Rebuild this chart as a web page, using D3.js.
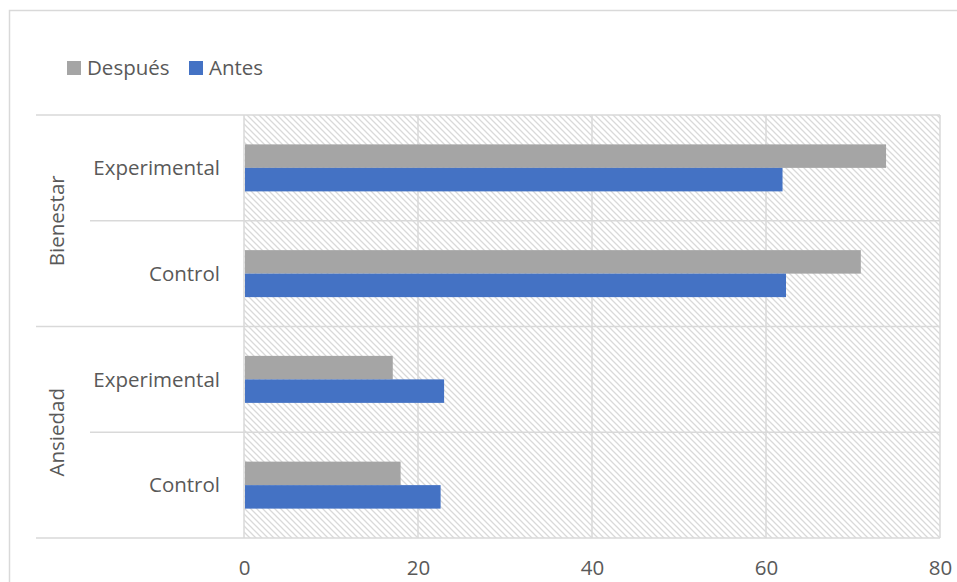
<!DOCTYPE html>
<html>
<head>
<meta charset="utf-8">
<script src="https://cdn.jsdelivr.net/npm/d3@7"></script>
<style>
  body { margin: 0; background: #fff; }
  text { font-family: "Open Sans", Lato, sans-serif; fill: #595959; }
</style>
</head>
<body>
<svg id="chart" width="957" height="582"></svg>
<script>
// groups from top to bottom, each with two categories
const groups = ['Bienestar', 'Ansiedad'];
const categories = ['Experimental', 'Control'];
const series = ['Después', 'Antes'];
// values listed in row order: Bienestar/Experimental, Bienestar/Control, Ansiedad/Experimental, Ansiedad/Control
const despues = [73.8, 70.9, 17.1, 18.0];
const antes = [61.9, 62.3, 23.0, 22.6];
const xTicks = [0, 20, 40, 60, 80];

const COLORS = {'Después': '#a5a5a5', 'Antes': '#4472c4'};
const GRID = '#d9d9d9';
const PLOT = {left: 244, right: 940, top: 115, bottom: 538};
const FONT = 20.5;

const svg = d3.select('#chart');

// outer chart border (only top and left visible)
svg.append('path')
  .attr('d', 'M9.5,600 V10.5 H960')
  .attr('fill', 'none')
  .attr('stroke', GRID)
  .attr('stroke-width', 1.5);

// hatch pattern
const defs = svg.append('defs');
const pat = defs.append('pattern')
  .attr('id', 'hatch')
  .attr('patternUnits', 'userSpaceOnUse')
  .attr('width', 6).attr('height', 6);
pat.append('path')
  .attr('d', 'M-1,-1 L7,7 M-4,2 L2,8 M4,-2 L10,4')
  .attr('stroke', '#d9d9d9')
  .attr('stroke-width', 1.3);

const rows = [];
groups.forEach((g) => categories.forEach((c) => rows.push(`${g}|${c}`)));

const x = d3.scaleLinear().domain([0, 80]).range([PLOT.left, PLOT.right]);
const y = d3.scaleBand().domain(rows).range([PLOT.top, PLOT.bottom]);
const inner = d3.scaleBand().domain(series).range([0, y.bandwidth()]).paddingInner(0).paddingOuter(1.25);

svg.append('rect')
  .attr('x', PLOT.left).attr('y', PLOT.top)
  .attr('width', PLOT.right - PLOT.left).attr('height', PLOT.bottom - PLOT.top)
  .attr('fill', 'url(#hatch)');

// vertical gridlines
svg.append('g').selectAll('line').data(xTicks).join('line')
  .attr('x1', (d) => x(d)).attr('x2', (d) => x(d))
  .attr('y1', PLOT.top).attr('y2', PLOT.bottom)
  .attr('stroke', GRID).attr('stroke-width', 1.5);

// horizontal lines between categories, longer ones between groups
const bounds = rows.map((r) => y(r)).concat([PLOT.bottom]);
svg.append('g').selectAll('line').data(bounds).join('line')
  .attr('x1', (d, i) => (i % 2 === 0 ? 36 : 90))
  .attr('x2', PLOT.right)
  .attr('y1', (d) => d).attr('y2', (d) => d)
  .attr('stroke', GRID).attr('stroke-width', 1.5);

// bars
const barData = [];
rows.forEach((r, i) => {
  barData.push({row: r, s: 'Después', v: despues[i]});
  barData.push({row: r, s: 'Antes', v: antes[i]});
});
svg.append('g').selectAll('rect').data(barData).join('rect')
  .attr('x', x(0) + 1)
  .attr('y', (d) => y(d.row) + inner(d.s))
  .attr('width', (d) => x(d.v) - x(0) - 1)
  .attr('height', inner.bandwidth())
  .attr('fill', (d) => COLORS[d.s]);

// category labels
svg.append('g').selectAll('text').data(rows).join('text')
  .attr('x', 220)
  .attr('y', (r) => y(r) + y.bandwidth() / 2)
  .attr('dy', '0.35em')
  .attr('text-anchor', 'end')
  .attr('font-size', FONT)
  .text((r) => r.split('|')[1]);

// group labels, rotated
svg.append('g').selectAll('text').data(groups).join('text')
  .attr('transform', (g) => {
    const cy = y(`${g}|${categories[0]}`) + y.bandwidth();
    return `translate(57,${cy}) rotate(-90)`;
  })
  .attr('dy', '0.35em')
  .attr('text-anchor', 'middle')
  .attr('font-size', FONT)
  .text((g) => g);

// x axis tick labels
const xAxis = d3.axisBottom(x).tickValues(xTicks).tickSize(0).tickPadding(22);
const ax = svg.append('g').attr('transform', `translate(0,${PLOT.bottom})`).call(xAxis);
ax.select('.domain').remove();
ax.selectAll('text').attr('font-size', FONT).style('font-family', '"Open Sans", Lato, sans-serif').attr('fill', '#595959');

// legend
const legend = svg.append('g').attr('transform', 'translate(67,61)');
const lx = [0, 122];
series.forEach((s, i) => {
  const item = legend.append('g').attr('transform', `translate(${lx[i]},0)`);
  item.append('rect').attr('width', 14).attr('height', 14).attr('fill', COLORS[s]);
  item.append('text').attr('x', 20).attr('y', 7).attr('dy', '0.35em').attr('font-size', FONT).text(s);
});
</script>
</body>
</html>
